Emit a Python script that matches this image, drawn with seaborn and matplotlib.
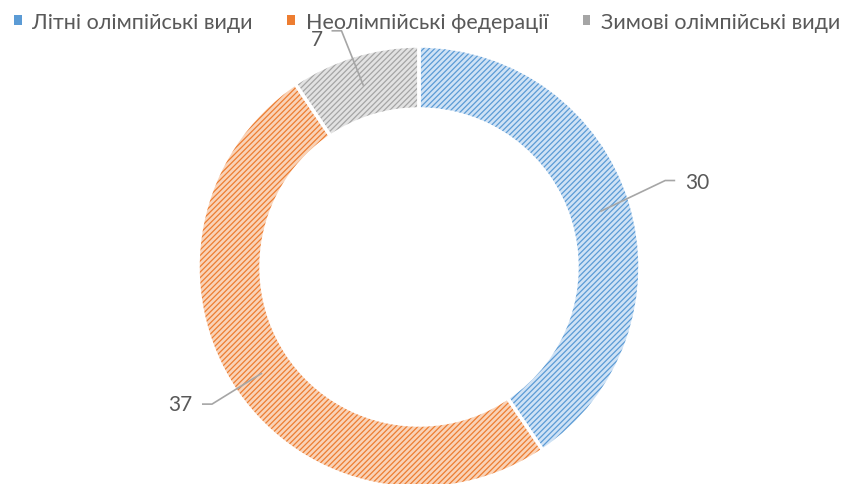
import matplotlib
matplotlib.use("Agg")
import matplotlib.pyplot as plt
import matplotlib.patches as mpatches
import seaborn as sns
import numpy as np

# data
categories = ["Літні олімпійські види", "Неолімпійські федерації", "Зимові олімпійські види"]
values = [30, 37, 7]
line_colors = ["#5B9BD5", "#ED7D31", "#A5A5A5"]
fill_colors = ["#cfe2f5", "#f9d3b8", "#e2e2e2"]

sns.set_style("white")
plt.rcParams["font.family"] = ["Lato", "DejaVu Sans"]
plt.rcParams["hatch.linewidth"] = 0.9

W, H = 849, 485
fig = plt.figure(figsize=(W / 100, H / 100), dpi=100)
ax = fig.add_axes([0, 0, 1, 1])

cx, cy = 419, H - 268
R, ring = 221, 63

# hatched fill
wedges, _ = ax.pie(values, startangle=90, counterclock=False, colors=fill_colors,
                   center=(cx, cy), radius=R, frame=True,
                   wedgeprops=dict(width=ring, linewidth=0))
for w, lc in zip(wedges, line_colors):
    w.set_hatch("//////")
    w.set_edgecolor(lc)
    w.set_linewidth(0)
# white separators
ax.pie(values, startangle=90, counterclock=False, colors=["none"] * 3,
       center=(cx, cy), radius=R, frame=True,
       wedgeprops=dict(width=ring, linewidth=2.5, edgecolor="white"))
ax.set_xlim(0, W)
ax.set_ylim(0, H)
ax.set_aspect("equal")
ax.axis("off")

# leader lines: (elbow offset, end offset, text offset, ha)
label_layout = [
    ((65, 31), (75, 31), (85, 30), "left"),
    ((-50, -31), (-60, -31), (-70, -31), "right"),
    ((-22, 55), (-32, 55), (-47, 47), "center"),
]
rm = R - ring / 2
for w, v, (el, en, tx, ha) in zip(wedges, values, label_layout):
    ang = np.deg2rad((w.theta1 + w.theta2) / 2)
    ax0, ay0 = cx + rm * np.cos(ang), cy + rm * np.sin(ang)
    ax.plot([ax0, ax0 + el[0], ax0 + en[0]], [ay0, ay0 + el[1], ay0 + en[1]],
            color="#a6a6a6", lw=1.2, solid_capstyle="butt")
    ax.text(ax0 + tx[0], ay0 + tx[1], str(v), ha=ha, va="center",
            fontsize=15, color="#595959")

handles = [mpatches.Patch(facecolor=l, edgecolor=l, linewidth=0)
           for f, l in zip(fill_colors, line_colors)]
fig.legend(handles, categories, loc="upper center", bbox_to_anchor=(0.503, 1.014),
           ncol=3, frameon=False, fontsize=15.5, handlelength=0.35, handleheight=0.35,
           handletextpad=0.5, columnspacing=1.6, labelcolor="#595959")

fig.savefig("out.png", dpi=100)
